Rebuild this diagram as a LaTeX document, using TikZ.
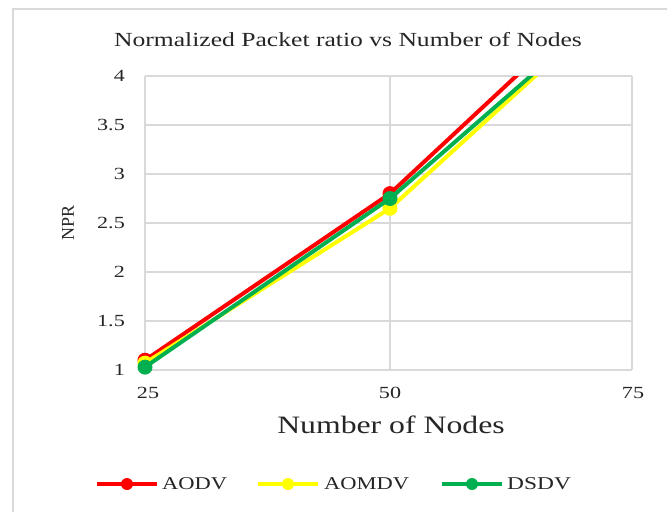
\documentclass[tikz,border=0pt]{standalone}
\usepackage{fontspec}
\setmainfont{Liberation Serif}
\definecolor{gridc}{HTML}{D9D9D9}
\definecolor{framec}{HTML}{D9D9D9}
\definecolor{txtc}{HTML}{262626}
\definecolor{sred}{HTML}{FF0000}
\definecolor{syel}{HTML}{FFFF00}
\definecolor{sgrn}{HTML}{00B050}
\newcommand{\sx}[2]{\scalebox{#1}[1]{#2}}
\begin{document}
\begin{tikzpicture}[x=1pt,y=-1pt,
  gridline/.style={draw=gridc, line width=1.8pt},
  series/.style={line width=4pt, line join=round, line cap=round},
  ticklab/.style={inner sep=0pt, text=txtc, font=\fontsize{17}{17}\selectfont},
  legtext/.style={inner sep=0pt, anchor=west, text=txtc, font=\fontsize{18}{18}\selectfont}]
\useasboundingbox (0,0) rectangle (667,512);
\fill[white] (0,0) rectangle (667,512);
% outer frame
\draw[framec, line width=2.5pt] (13,512) -- (13,9) -- (667,9);
% grid
\foreach \v in {0,1,...,6} {
  \draw[gridline] (145,{370-\v*49}) -- (632,{370-\v*49});
}
\draw[gridline] (145,76) -- (145,370);
\draw[gridline] (390,76) -- (390,370);
\draw[gridline] (632,76) -- (632,370);
% title
\node[inner sep=0pt, text=txtc, font=\fontsize{20}{20}\selectfont] (title) at (348,40) {\sx{1.28}{Normalized Packet ratio vs Number of Nodes}};
% y tick labels
\node[ticklab, anchor=east] (y4) at (125,76) {\sx{1.3}{4}};
\node[ticklab, anchor=east] (y35) at (125,125) {\sx{1.3}{3.5}};
\node[ticklab, anchor=east] (y3) at (125,174) {\sx{1.3}{3}};
\node[ticklab, anchor=east] (y25) at (125,223) {\sx{1.3}{2.5}};
\node[ticklab, anchor=east] (y2) at (125,272) {\sx{1.3}{2}};
\node[ticklab, anchor=east] (y15) at (125,321) {\sx{1.3}{1.5}};
\node[ticklab, anchor=east] (y1) at (125,370) {\sx{1.3}{1}};
% x tick labels
\node[ticklab] (x25) at (148,393) {\sx{1.3}{25}};
\node[ticklab] (x50) at (390,393) {\sx{1.3}{50}};
\node[ticklab] (x75) at (633,393) {\sx{1.3}{75}};
% axis titles
\node[inner sep=0pt, text=txtc, font=\fontsize{18}{18}\selectfont, rotate=90] (ylab) at (68,223) {NPR};
\node[inner sep=0pt, text=txtc, font=\fontsize{25}{25}\selectfont] (xlab) at (391,425) {\sx{1.27}{Number of Nodes}};
% data points
\coordinate (r1) at (145,360.2);
\coordinate (r2) at (390,193.6);
\coordinate (r3) at (632,-31.8);
\coordinate (a1) at (145,363.1);
\coordinate (a2) at (390,208.3);
\coordinate (a3) at (632,-12.2);
\coordinate (g1) at (145,367.1);
\coordinate (g2) at (390,198.5);
\coordinate (g3) at (632,-12.2);
\begin{scope}
  \clip (100,76) rectangle (640,400);
  \draw[series, sred] (r1) -- (r2) -- (r3);
\end{scope}
\fill[sred] (r1) circle (7.5) (r2) circle (7.5);
\begin{scope}
  \clip (100,76) rectangle (640,400);
  \draw[series, syel] (a1) -- (a2) -- (a3);
\end{scope}
\fill[syel] (a1) circle (7.5) (a2) circle (7.5);
\begin{scope}
  \clip (100,76) rectangle (640,400);
  \draw[series, sgrn] (g1) -- (g2) -- (g3);
\end{scope}
\fill[sgrn] (g1) circle (7.5) (g2) circle (7.5);
% legend
\coordinate (lr1) at (97,484); \coordinate (lr2) at (157,484); \coordinate (lrm) at (127,484);
\coordinate (ly1) at (258,484); \coordinate (ly2) at (318,484); \coordinate (lym) at (288,484);
\coordinate (lg1) at (442,484); \coordinate (lg2) at (502,484); \coordinate (lgm) at (472,484);
\draw[sred, line width=3.5pt] (lr1) -- (lr2); \fill[sred] (lrm) circle (6);
\draw[syel, line width=3.5pt] (ly1) -- (ly2); \fill[syel] (lym) circle (6);
\draw[sgrn, line width=3.5pt] (lg1) -- (lg2); \fill[sgrn] (lgm) circle (6);
\node[legtext] (lt1) at (162,484) {\sx{1.25}{AODV}};
\node[legtext] (lt2) at (324,484) {\sx{1.25}{AOMDV}};
\node[legtext] (lt3) at (507,484) {\sx{1.3}{DSDV}};
\end{tikzpicture}
\end{document}
